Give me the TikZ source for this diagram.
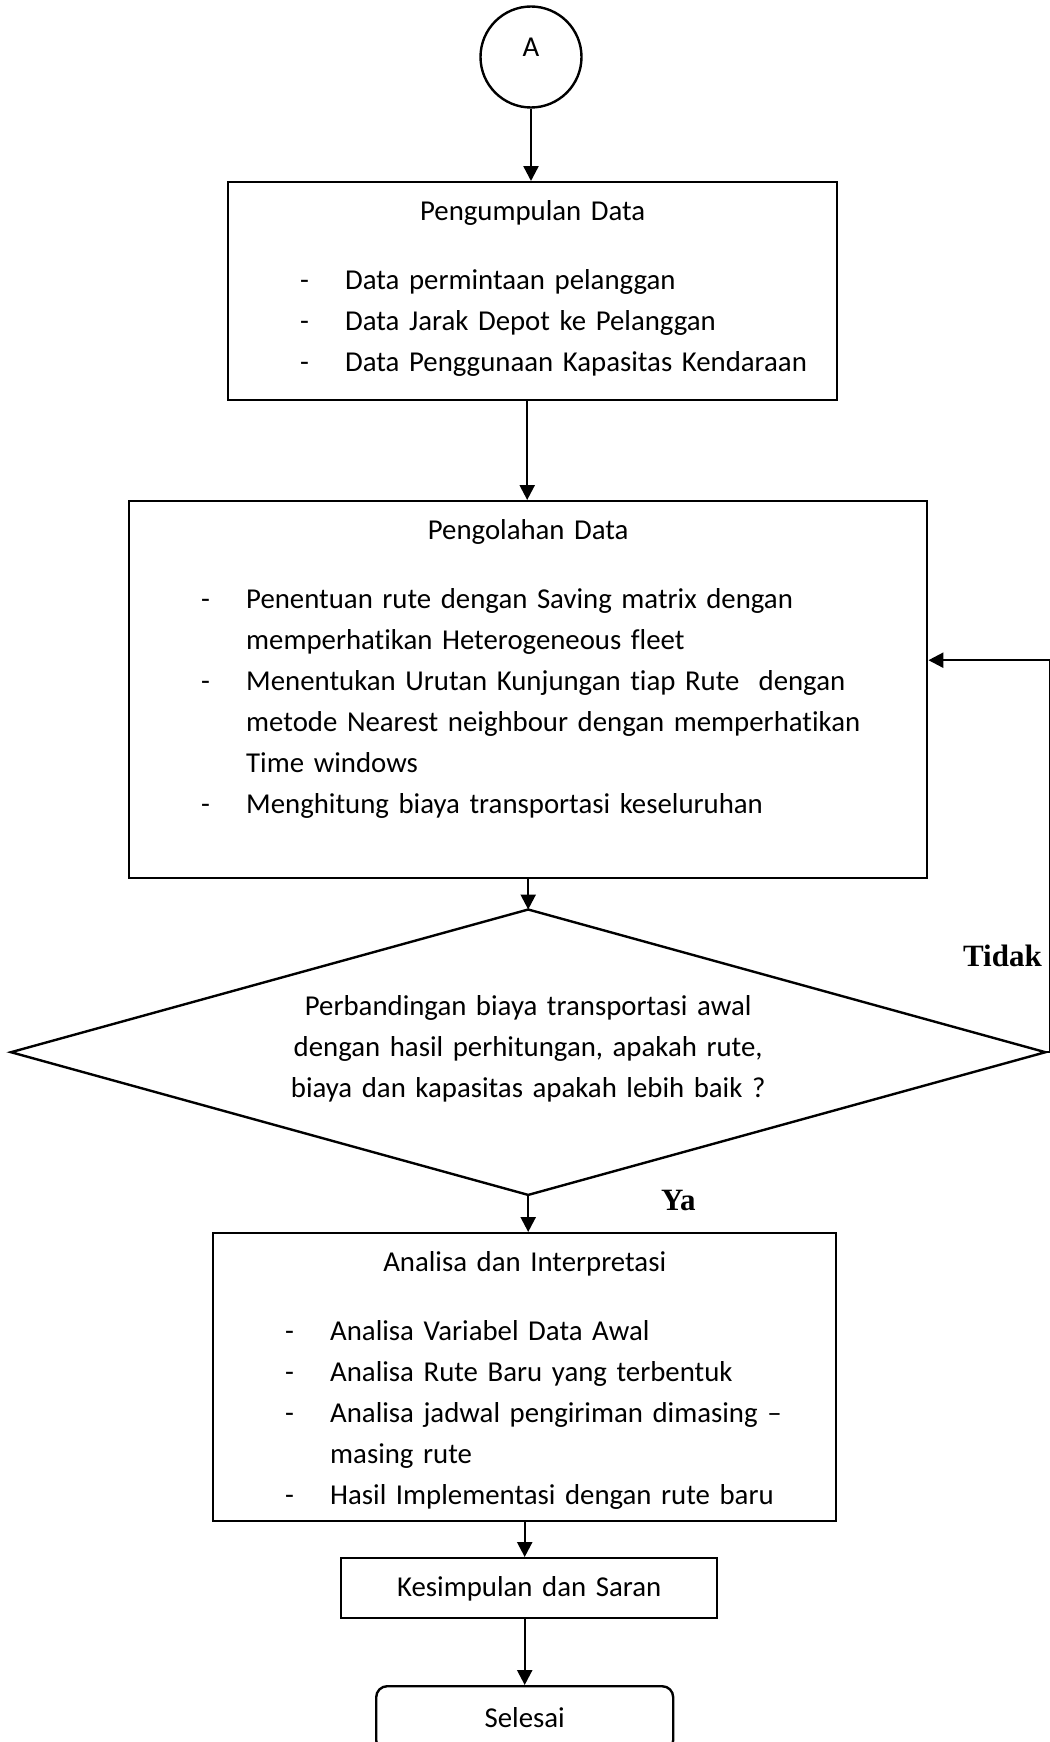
\documentclass[tikz,border=0pt]{standalone}
\usepackage{fontspec}
\setmainfont{Carlito}[Ligatures={TeX,NoCommon}]
\newfontfamily\lblfont{Liberation Serif}
\usetikzlibrary{arrows.meta}
\newcommand{\bitem}[1]{\hspace*{72pt}\makebox[45pt][l]{-}#1}
\newcommand{\bcont}[1]{\hspace*{117pt}#1}
\newcommand{\btitle}[1]{\makebox[\linewidth]{#1}\\[28pt]}
\begin{document}
\begin{tikzpicture}[x=1pt,y=-1pt,line width=2.4pt,
  txt/.style={font={\fontsize{28.8pt}{41pt}\selectfont}},
  box/.style={txt,draw,rectangle,inner sep=0pt,anchor=north west,align=left},
  cbox/.style={txt,draw,rectangle,inner sep=0pt,anchor=north west,align=center},
  arr/.style={-{Triangle[length=15pt,width=15pt]}},
  lbl/.style={font={\lblfont\bfseries\fontsize{31pt}{36pt}\selectfont},inner sep=0pt}]
\useasboundingbox (0,0) rectangle (1049,1742);

\node[txt,draw,circle,minimum size=101pt,inner sep=0pt,text height=6pt,text depth=6pt] (A) at (531,57) {A};

\node[box,text width=609pt,text height=38pt,text depth=180pt] (b1) at (227,181)
 {\btitle{Pengumpulan Data}
  \bitem{Data permintaan pelanggan}\\
  \bitem{Data Jarak Depot ke Pelanggan}\\
  \bitem{Data Penggunaan Kapasitas Kendaraan}};

\node[box,text width=798pt,text height=38.3pt,text depth=338.7pt] (b2) at (128,500)
 {\btitle{Pengolahan Data}
  \bitem{Penentuan rute dengan Saving matrix dengan}\\
  \bcont{memperhatikan Heterogeneous fleet}\\
  \bitem{Menentukan Urutan Kunjungan tiap Rute\ \ dengan}\\
  \bcont{metode Nearest neighbour dengan memperhatikan}\\
  \bcont{Time windows}\\
  \bitem{Menghitung biaya transportasi keseluruhan}};

\node[txt,rectangle,inner sep=0pt,anchor=north west,align=center,text width=1032pt,text height=104.5pt,text depth=178.5pt] (dec) at (11,909.5)
 {Perbandingan biaya transportasi awal\\
  dengan hasil perhitungan, apakah rute,\\
  biaya dan kapasitas apakah lebih baik ?};
\draw (dec.west) -- (dec.north) -- (dec.east) -- (dec.south) -- cycle;

\node[box,text width=623pt,text height=38pt,text depth=250pt] (b3) at (212,1232)
 {\btitle{Analisa dan Interpretasi}
  \bitem{Analisa Variabel Data Awal}\\
  \bitem{Analisa Rute Baru yang terbentuk}\\
  \bitem{Analisa jadwal pengiriman dimasing –}\\
  \bcont{masing rute}\\
  \bitem{Hasil Implementasi dengan rute baru}};

\node[cbox,text width=376pt,text height=38pt,text depth=22pt] (kes) at (340,1557) {Kesimpulan dan Saran};

\node[cbox,rounded corners=11pt,text width=297pt,text height=41pt,text depth=24pt] (sel) at (375,1685) {Selesai};

\node[lbl,anchor=base east] (tidak) at (1043,966) {Tidak};
\node[lbl,anchor=base west] (ya) at (660,1210) {Ya};

\draw[arr] (A.south) -- (A.south |- b1.north);
\draw[arr] ([xshift=-5.5pt]b1.south) -- ([xshift=-5.5pt]b1.south |- b2.north);
\draw[arr] (b2.south) -- (dec.north);
\draw[arr] (dec.south) -- (dec.south |- b3.north);
\draw[arr] (b3.south) -- (b3.south |- kes.north);
\draw[arr] (sel.north |- kes.south) -- (sel.north);
\draw[arr] (dec.east) -- ++(5,0) |- ([yshift=29.5pt]b2.east);
\end{tikzpicture}
\end{document}
